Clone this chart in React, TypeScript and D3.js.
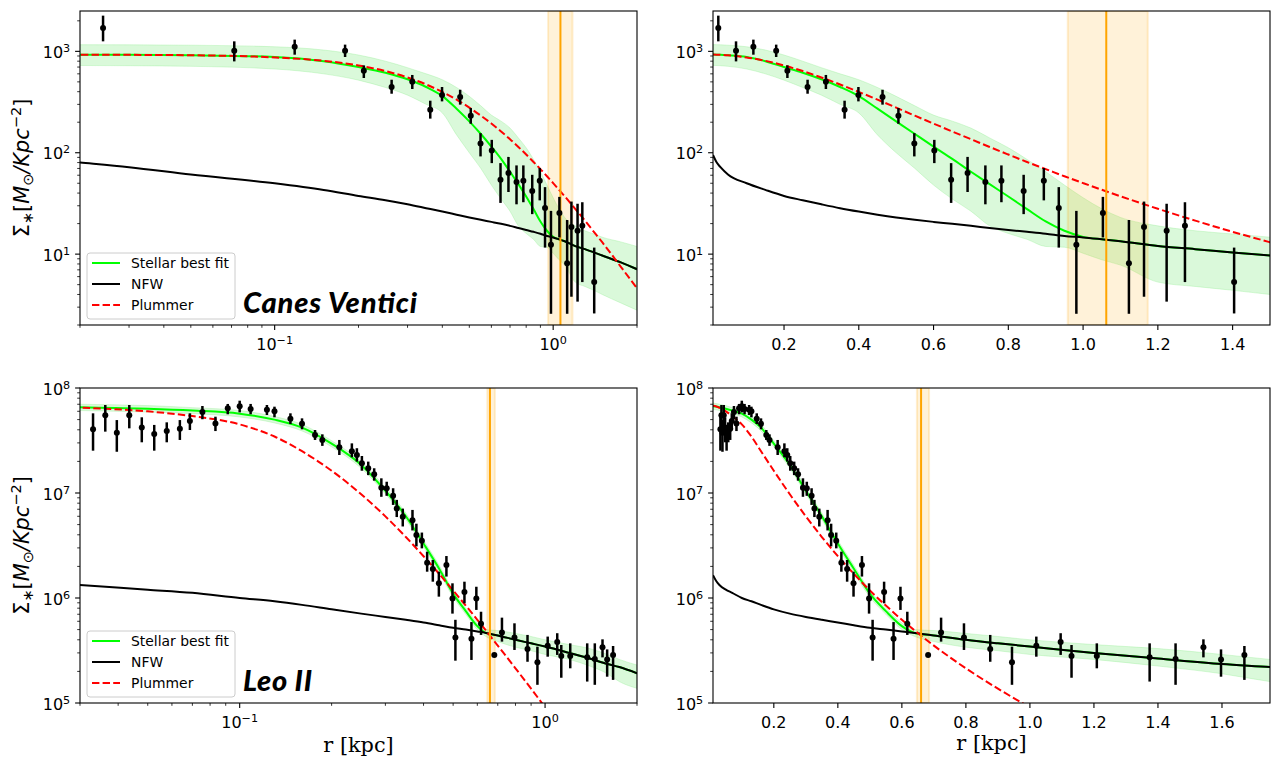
import React from 'react';
import * as d3 from 'd3';

// ---------------- Canes Venatici (top row) ----------------
const cvnR = [0.0242, 0.0716, 0.118, 0.179, 0.209, 0.263, 0.312, 0.362, 0.399, 0.4635, 0.506, 0.5485, 0.602, 0.647, 0.691, 0.7386, 0.7815, 0.841, 0.895, 0.935, 0.982, 1.053, 1.1226, 1.163, 1.2235, 1.2725, 1.404];
const cvnSigma = [1702, 1016, 1112, 1016, 644, 446, 502, 266, 371, 355, 232, 123, 105, 54, 63, 51.4, 53, 42, 53, 28.5, 12.4, 25.4, 8.15, 18.5, 17, 19, 5.3];
const cvnLow = [1255, 796, 927, 880, 546, 382, 425, 217, 321, 298, 193, 92, 79, 32, 41, 31, 32.5, 24.8, 33.9, 11.6, 2.58, 14.6, 2.58, 3.8, 3.4, 5.3, 2.6];
const cvnHigh = [2250, 1255, 1305, 1165, 727, 525, 585, 326, 445, 418, 276, 156, 134, 79, 91, 75, 75, 60.6, 70.6, 45.8, 26.7, 36.7, 21.7, 33, 31.4, 32.5, 11.6];

const cvnCurveR = [0.01, 0.02, 0.03, 0.05, 0.1, 0.15, 0.2, 0.25, 0.3, 0.35, 0.4, 0.45, 0.5, 0.55, 0.6, 0.65, 0.7, 0.75, 0.8, 0.85, 0.9, 0.95, 1.0, 1.05, 1.1, 1.2, 1.3, 1.4, 1.5, 1.75, 2.0];
const cvnFit = [930, 928, 925, 915, 880, 800, 700, 615, 530, 445, 362, 272, 204, 153, 115, 87, 65, 49, 37, 27.8, 21, 17, 14.8, 14.0, 13.4, 12.0, 11.2, 10.4, 9.7, 8.3, 7.1];
const cvnNfw = [95, 80, 72, 61, 50, 43, 37.5, 34, 31, 28.4, 26.3, 24.5, 23, 21.8, 20.8, 19.9, 19.0, 18.1, 17.3, 16.6, 15.9, 15.1, 14.6, 14.0, 13.4, 12.0, 11.2, 10.4, 9.7, 8.3, 7.1];
const cvnPlummer = [929, 927.5, 924, 915, 871, 806, 726, 639, 552, 471, 398, 334, 279, 232, 194, 162, 136, 114, 96, 81, 69, 58.6, 50.2, 43.1, 37.2, 28.0, 21.4, 16.6, 13.1, 7.5, 4.6];
const cvnBandHigh = [1165, 1163, 1160, 1150, 1110, 1030, 920, 800, 690, 600, 525, 440, 360, 290, 235, 205, 175, 140, 112, 86, 65, 48, 36, 28, 23, 19, 17, 15.8, 14.7, 13.2, 11.9];
const cvnBandLow = [727, 725, 722, 712, 670, 600, 520, 440, 370, 300, 247, 150, 100, 70, 48, 35, 26.5, 19, 16, 14, 11.9, 11.7, 10.2, 8.8, 7.8, 5.3, 4.8, 4.4, 4.0, 3.3, 2.8];
const cvnTransition = [0.959, 1.062, 1.173]; // band low, line, band high

// ---------------- Leo II (bottom row) ----------------
const leoR = [0.0331, 0.0363, 0.0396, 0.0435, 0.0478, 0.0525, 0.0577, 0.0637, 0.0687, 0.0755,
  0.0833, 0.0914, 0.1, 0.1086, 0.1228, 0.130, 0.1466, 0.160, 0.1765, 0.1865,
  0.212, 0.233, 0.242, 0.2513, 0.2636, 0.2757, 0.291, 0.303, 0.318, 0.3268,
  0.342, 0.368, 0.379, 0.395, 0.411, 0.429, 0.449, 0.4753, 0.4975, 0.5086,
  0.5445, 0.574, 0.5956, 0.617, 0.682, 0.7225, 0.794, 0.876, 0.944, 1.02,
  1.096, 1.13, 1.209, 1.374, 1.455, 1.542, 1.597, 1.67];
const leoSigma = [4.05e7, 5.5e7, 3.75e7, 5.5e7, 4.2e7, 3.65e7, 3.9e7, 4.1e7, 4.85e7, 5.9e7,
  4.6e7, 6.4e7, 6.7e7, 6.3e7, 6.2e7, 6.0e7, 5.1e7, 4.57e7, 3.57e7, 3.2e7,
  2.72e7, 2.5e7, 2.3e7, 1.92e7, 1.72e7, 1.51e7, 1.12e7, 1.11e7, 9.4e6, 7.1e6,
  5.95e6, 5.5e6, 3.98e6, 3.5e6, 2.17e6, 1.89e6, 1.38e6, 2.06e6, 9.9e5, 4.2e5,
  1.14e6, 4.1e5, 9.9e5, 5.7e5, 2.87e5, 4.7e5, 4.2e5, 3.27e5, 2.44e5, 3.5e5,
  3.8e5, 2.8e5, 2.8e5, 2.72e5, 2.62e5, 3.39e5, 2.6e5, 2.87e5];
const leoLow = [2.53e7, 3.84e7, 2.47e7, 4.13e7, 3.04e7, 2.53e7, 3.04e7, 3.2e7, 3.98e7, 5.04e7,
  3.89e7, 5.62e7, 5.86e7, 5.62e7, 5.53e7, 5.26e7, 4.54e7, 4.04e7, 3.2e7, 2.81e7,
  2.3e7, 2.19e7, 1.99e7, 1.63e7, 1.48e7, 1.31e7, 9.2e6, 9.4e6, 7.7e6, 5.9e6,
  4.8e6, 4.4e6, 3.1e6, 2.97e6, 1.78e6, 1.43e6, 1.03e6, 1.6e6, 7.1e5, 2.53e5,
  8.9e5, 2.57e5, 7.7e5, 4.45e5, 2.8e5, 3.84e5, 3.2e5, 2.47e5, 1.49e5, 2.76e5,
  2.87e5, 1.74e5, 2.14e5, 1.6e5, 1.49e5, 2.72e5, 1.78e5, 1.66e5];
const leoHigh = [5.74e7, 6.89e7, 4.95e7, 6.89e7, 5.26e7, 4.45e7, 4.71e7, 4.95e7, 5.74e7, 6.74e7,
  5.33e7, 7.05e7, 7.57e7, 7.05e7, 6.89e7, 6.64e7, 5.74e7, 5.14e7, 3.98e7, 3.62e7,
  3.2e7, 2.97e7, 2.67e7, 2.25e7, 1.99e7, 1.72e7, 1.38e7, 1.28e7, 1.11e7, 8.6e6,
  7.1e6, 6.9e6, 5.1e6, 4.2e6, 2.76e6, 2.3e6, 1.78e6, 2.51e6, 1.38e6, 6.2e5,
  1.43e6, 5.9e5, 1.28e6, 7.4e5, 2.94e5, 6.5e5, 5.74e5, 4.45e5, 3.44e5, 4.29e5,
  4.62e5, 3.57e5, 3.7e5, 3.7e5, 3.7e5, 4.04e5, 3.24e5, 3.49e5];

const leoCurveR = [0.01, 0.02, 0.03, 0.05, 0.07, 0.1, 0.13, 0.16, 0.2, 0.25, 0.3, 0.35, 0.4, 0.45, 0.5, 0.55, 0.6, 0.64, 0.7, 0.8, 0.9, 1.0, 1.2, 1.4, 1.6, 1.75, 2.0];
const leoFit = [6.7e7, 6.65e7, 6.55e7, 6.35e7, 6.1e7, 5.7e7, 5.0e7, 4.2e7, 2.95e7, 1.85e7, 1.05e7, 6.0e6, 3.3e6, 1.9e6, 1.1e6, 7.5e5, 5.4e5, 4.65e5, 4.4e5, 4.0e5, 3.7e5, 3.45e5, 3.0e5, 2.65e5, 2.35e5, 2.2e5, 1.92e5];
const leoNfw = [1.65e6, 1.45e6, 1.33e6, 1.2e6, 1.12e6, 1.0e6, 9.3e5, 8.6e5, 7.8e5, 7.1e5, 6.6e5, 6.2e5, 5.85e5, 5.5e5, 5.2e5, 5.0e5, 4.8e5, 4.65e5, 4.4e5, 4.0e5, 3.7e5, 3.45e5, 3.0e5, 2.65e5, 2.35e5, 2.2e5, 1.92e5];
const leoPlummer = [6.76e7, 6.66e7, 6.49e7, 5.99e7, 5.4e7, 4.5e7, 3.45e7, 2.5e7, 1.63e7, 9.72e6, 5.99e6, 3.81e6, 2.5e6, 1.7e6, 1.18e6, 8.47e5, 6.2e5, 4.9e5, 3.52e5, 2.14e5, 1.37e5, 9.1e4, 4.5e4, 2.2e4, 1.25e4, 8.5e3, 5.2e3];
const leoBandHigh = [7.2e7, 7.1e7, 7.0e7, 6.8e7, 6.5e7, 6.1e7, 5.35e7, 4.5e7, 3.15e7, 1.98e7, 1.13e7, 6.45e6, 3.55e6, 2.05e6, 1.18e6, 8.0e5, 5.8e5, 5.0e5, 4.9e5, 4.6e5, 4.3e5, 4.0e5, 3.6e5, 3.3e5, 2.9e5, 2.6e5, 2.3e5];
const leoBandLow = [6.25e7, 6.2e7, 6.1e7, 5.9e7, 5.7e7, 5.3e7, 4.65e7, 3.9e7, 2.75e7, 1.72e7, 9.8e6, 5.6e6, 3.07e6, 1.76e6, 1.02e6, 7.0e5, 5.0e5, 4.3e5, 3.85e5, 3.4e5, 3.15e5, 2.9e5, 2.6e5, 2.25e5, 1.9e5, 1.6e5, 1.38e5];
const leoTransition = [0.647, 0.66, 0.685];

// ---------------- ticks / labels ----------------
const cvnLinearTicks = [0.2, 0.4, 0.6, 0.8, 1.0, 1.2, 1.4];
const leoLinearTicks = [0.2, 0.4, 0.6, 0.8, 1.0, 1.2, 1.4, 1.6];
const legendLabels = ['Stellar best fit', 'NFW', 'Plummer'];

type Galaxy = {
  r: number[]; sigma: number[]; low: number[]; high: number[];
  curveR: number[]; fit: number[]; nfw: number[]; plummer: number[];
  bandHigh: number[]; bandLow: number[]; rt: number[];
};

const cvn: Galaxy = { r: cvnR, sigma: cvnSigma, low: cvnLow, high: cvnHigh, curveR: cvnCurveR, fit: cvnFit, nfw: cvnNfw, plummer: cvnPlummer, bandHigh: cvnBandHigh, bandLow: cvnBandLow, rt: cvnTransition };
const leo: Galaxy = { r: leoR, sigma: leoSigma, low: leoLow, high: leoHigh, curveR: leoCurveR, fit: leoFit, nfw: leoNfw, plummer: leoPlummer, bandHigh: leoBandHigh, bandLow: leoBandLow, rt: leoTransition };

const SANS = "'DejaVu Sans', sans-serif";
const SERIF = "'DejaVu Serif', serif";
const TICK_FS = 16;
const SUP_FS = 11.2;

function supText(e: number) {
  return e < 0 ? '\u2212' + String(-e) : String(e);
}

function logTicks(domain: number[]) {
  const lo = Math.min(domain[0], domain[1]);
  const hi = Math.max(domain[0], domain[1]);
  const majors: number[] = [];
  const minors: number[] = [];
  for (let e = Math.floor(Math.log10(lo)) - 1; e <= Math.ceil(Math.log10(hi)) + 1; e++) {
    const p = Math.pow(10, e);
    if (p >= lo * 0.9999 && p <= hi * 1.0001) majors.push(e);
    for (let k = 2; k <= 9; k++) {
      const v = k * p;
      if (v >= lo * 0.9999 && v <= hi * 1.0001) minors.push(v);
    }
  }
  return { majors, minors };
}

type Box = { l: number; t: number; r: number; b: number };

function Panel(props: {
  id: string; box: Box; xType: 'log' | 'linear'; xDomain: number[]; yDomain: number[];
  g: Galaxy; linearTicks?: number[]; title: string; titleWidth?: number; legend: boolean;
}) {
  const { id, box, xType, xDomain, yDomain, g, linearTicks, title, titleWidth, legend } = props;
  const x: any = xType === 'log'
    ? d3.scaleLog().domain(xDomain).range([box.l, box.r])
    : d3.scaleLinear().domain(xDomain).range([box.l, box.r]);
  const y = d3.scaleLog().domain(yDomain).range([box.b, box.t]);

  const idx = g.curveR.map((_, i) => i);
  const lineOf = (vals: number[]) =>
    d3.line<number>().x(i => x(g.curveR[i])).y(i => y(vals[i])).curve(d3.curveMonotoneX)(idx) || '';
  const bandPath = d3.area<number>()
    .x(i => x(g.curveR[i]))
    .y0(i => y(g.bandLow[i]))
    .y1(i => y(g.bandHigh[i]))
    .curve(d3.curveMonotoneX)(idx) || '';

  const yt = logTicks(yDomain);
  const xt = xType === 'log' ? logTicks(xDomain) : null;

  const clip = `clip-${id}`;
  const [rtLo, rtMid, rtHi] = g.rt;

  const legX = box.l + 7;
  const legY = box.b - 72;

  return (
    <g>
      <defs>
        <clipPath id={clip}>
          <rect x={box.l} y={box.t} width={box.r - box.l} height={box.b - box.t} />
        </clipPath>
      </defs>
      <g clipPath={`url(#${clip})`}>
        <path d={bandPath} fill="#90ee90" fillOpacity={0.33} stroke="#90ee90" strokeOpacity={0.33} strokeWidth={1} />
        <rect x={x(rtLo)} y={box.t} width={x(rtHi) - x(rtLo)} height={box.b - box.t}
          fill="#ffa500" fillOpacity={0.15} stroke="#ffa500" strokeOpacity={0.18} strokeWidth={2} />
        <path d={lineOf(g.fit)} fill="none" stroke="#00ff00" strokeWidth={2} />
        <path d={lineOf(g.nfw)} fill="none" stroke="#000" strokeWidth={2} />
        <path d={lineOf(g.plummer)} fill="none" stroke="#ff0000" strokeWidth={2} strokeDasharray="7.4,3.2" />
        <line x1={x(rtMid)} x2={x(rtMid)} y1={box.t} y2={box.b} stroke="#ffa500" strokeWidth={2} />
        {g.r.map((r, i) => (
          <g key={i}>
            <line x1={x(r)} x2={x(r)} y1={y(g.low[i])} y2={y(g.high[i])} stroke="#000" strokeWidth={2.5} />
            <circle cx={x(r)} cy={y(g.sigma[i])} r={3} fill="#000" />
          </g>
        ))}
      </g>
      <rect x={box.l} y={box.t} width={box.r - box.l} height={box.b - box.t} fill="none" stroke="#000" strokeWidth={1.1} />

      {/* y ticks */}
      {yt.minors.map((v, i) => (
        <line key={'ym' + i} x1={box.l} x2={box.l - 2.8} y1={y(v)} y2={y(v)} stroke="#000" strokeWidth={0.8} />
      ))}
      {yt.majors.map(e => (
        <g key={'yM' + e}>
          <line x1={box.l} x2={box.l - 4.9} y1={y(Math.pow(10, e))} y2={y(Math.pow(10, e))} stroke="#000" strokeWidth={1.1} />
          <text x={box.l - 9.8} y={y(Math.pow(10, e)) + 6.5} textAnchor="end" fontFamily={SANS} fontSize={TICK_FS} fill="#000">
            <tspan>10</tspan><tspan fontSize={SUP_FS} dy={-6}>{supText(e)}</tspan>
          </text>
        </g>
      ))}

      {/* x ticks */}
      {xt && xt.minors.map((v, i) => (
        <line key={'xm' + i} x1={x(v)} x2={x(v)} y1={box.b} y2={box.b + 2.8} stroke="#000" strokeWidth={0.8} />
      ))}
      {xt && xt.majors.map(e => (
        <g key={'xM' + e}>
          <line x1={x(Math.pow(10, e))} x2={x(Math.pow(10, e))} y1={box.b} y2={box.b + 4.9} stroke="#000" strokeWidth={1.1} />
          <text x={x(Math.pow(10, e))} y={box.b + 24.7} textAnchor="middle" fontFamily={SANS} fontSize={TICK_FS} fill="#000">
            <tspan>10</tspan><tspan fontSize={SUP_FS} dy={-6}>{supText(e)}</tspan>
          </text>
        </g>
      ))}
      {!xt && linearTicks && linearTicks.map(v => (
        <g key={'xl' + v}>
          <line x1={x(v)} x2={x(v)} y1={box.b} y2={box.b + 4.9} stroke="#000" strokeWidth={1.1} />
          <text x={x(v)} y={box.b + 24.7} textAnchor="middle" fontFamily={SANS} fontSize={TICK_FS} fill="#000">
            {d3.format('.1f')(v)}
          </text>
        </g>
      ))}

      {legend && (
        <g>
          <rect x={legX} y={legY} width={148} height={66} rx={3} fill="#fff" fillOpacity={0.8} stroke="#cccccc" strokeWidth={1} />
          {legendLabels.map((lab, i) => {
            const cy = legY + 10 + i * 21;
            const col = i === 0 ? '#00ff00' : i === 1 ? '#000' : '#ff0000';
            return (
              <g key={lab}>
                <line x1={legX + 5} x2={legX + 33} y1={cy} y2={cy} stroke={col} strokeWidth={2}
                  strokeDasharray={i === 2 ? '7.4,3.2' : undefined} />
                <text x={legX + 44} y={cy + 5} fontFamily={SANS} fontSize={13.9} fill="#000">{lab}</text>
              </g>
            );
          })}
        </g>
      )}
      {title && (
        <text x={box.l + 163} y={box.b - 12} fontFamily="Lato, 'Open Sans', sans-serif" fontWeight={900} fontStyle="italic" fontSize={29}
          textLength={titleWidth} lengthAdjust="spacing" fill="#000">
          {title}
        </text>
      )}
    </g>
  );
}

function YLabel({ cx, cy }: { cx: number; cy: number }) {
  return (
    <text transform={`translate(${cx},${cy}) rotate(-90)`} textAnchor="middle" fontFamily={SANS} fontSize={20.8} fill="#000">
      <tspan>Σ</tspan>
      <tspan fontSize={14.6} dy={4}>∗</tspan>
      <tspan dy={-4}>[</tspan>
      <tspan fontStyle="italic">M</tspan>
      <tspan fontSize={14.6} dy={4}>⊙</tspan>
      <tspan dy={-4} fontStyle="italic">/Kpc</tspan>
      <tspan fontSize={14.6} dy={-8}>−2</tspan>
      <tspan dy={8}>]</tspan>
    </text>
  );
}

export default function App() {
  return (
    <svg width={1283} height={761} style={{ position: 'absolute', left: 0, top: 0, background: '#fff' }}>
      <rect x={0} y={0} width={1283} height={761} fill="#fff" />
      <Panel id="tl" box={{ l: 80, t: 11, r: 637, b: 325 }} xType="log" xDomain={[0.02, 2]} yDomain={[2, 2500]} g={cvn} title="Canes Ventici" titleWidth={174} legend={true} />
      <Panel id="tr" box={{ l: 713, t: 11, r: 1270, b: 325 }} xType="linear" xDomain={[0.01, 1.5]} yDomain={[2, 2500]} g={cvn} linearTicks={cvnLinearTicks} title="" legend={false} />
      <Panel id="bl" box={{ l: 80, t: 388, r: 637, b: 703 }} xType="log" xDomain={[0.03, 2]} yDomain={[1e5, 1e8]} g={leo} title="Leo II" titleWidth={69} legend={true} />
      <Panel id="br" box={{ l: 713, t: 388, r: 1270, b: 703 }} xType="linear" xDomain={[0.01, 1.75]} yDomain={[1e5, 1e8]} g={leo} linearTicks={leoLinearTicks} title="" legend={false} />
      <YLabel cx={29} cy={168} />
      <YLabel cx={29} cy={545.5} />
      <text x={358.5} y={752} textAnchor="middle" fontFamily={SERIF} fontSize={20.8} fill="#000">r [kpc]</text>
      <text x={991.5} y={750} textAnchor="middle" fontFamily={SERIF} fontSize={20.8} fill="#000">r [kpc]</text>
    </svg>
  );
}
